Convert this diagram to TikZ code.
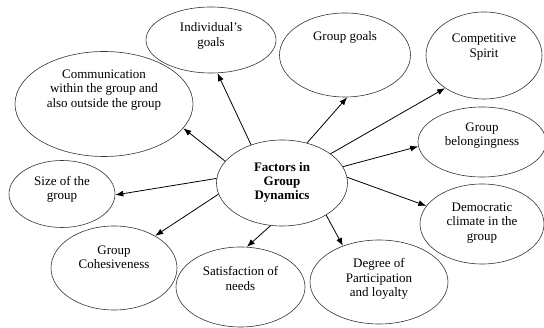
\documentclass[tikz,border=0pt]{standalone}
\usepackage{fontspec}
\setmainfont{Liberation Serif}
\usetikzlibrary{shapes.geometric,arrows.meta}
\begin{document}
\begin{tikzpicture}[x=1pt,y=-1pt,
  bub/.style={draw=black!80,line width=0.6pt,ellipse,inner sep=0pt},
  txt/.style={align=center,font=\fontsize{13}{14.5}\selectfont,inner sep=0pt},
  arr/.style={line width=0.8pt,-{Latex[length=8pt,width=6pt]}}]
\useasboundingbox (0,0) rectangle (544,328);
% ellipses
\node[bub,minimum width=131pt,minimum height=86pt] (c) at (282,183) {};
\node[bub,minimum width=130pt,minimum height=66pt] (ind) at (211,40) {};
\node[bub,minimum width=131pt,minimum height=84pt] (gg) at (345,55) {};
\node[bub,minimum width=116pt,minimum height=87pt] (comp) at (484,55.5) {};
\node[bub,minimum width=128pt,minimum height=70pt] (gb) at (482,142) {};
\node[bub,minimum width=124pt,minimum height=80pt] (dem) at (482,224) {};
\node[bub,minimum width=138pt,minimum height=84pt] (deg) at (379,282) {};
\node[bub,minimum width=129pt,minimum height=80pt] (sat) at (240.5,287) {};
\node[bub,minimum width=126pt,minimum height=84pt] (coh) at (114,268) {};
\node[bub,minimum width=106pt,minimum height=67pt] (size) at (62,194) {};
\node[bub,minimum width=178pt,minimum height=105pt] (comm) at (104,104) {};
% texts
\node[txt,font=\bfseries\fontsize{13}{14}\selectfont] (tc) at (282,182) {Factors in\\Group\\Dynamics};
\node[txt] (tind) at (211,36) {Individual’s\\goals};
\node[txt] (tgg) at (345,37) {Group goals};
\node[txt] (tcomp) at (484,47) {Competitive\\Spirit};
\node[txt] (tgb) at (482,135.5) {Group\\belongingness};
\node[txt] (tdem) at (482,223) {Democratic\\climate in the\\group};
\node[txt] (tdeg) at (379,279) {Degree of\\Participation\\and loyalty};
\node[txt] (tsat) at (240.5,278.5) {Satisfaction of\\needs};
\node[txt] (tcoh) at (114,257.5) {Group\\Cohesiveness};
\node[txt] (tsize) at (62,189.5) {Size of the\\group};
\node[txt] (tcomm) at (104,90) {Communication\\within the group and\\also outside the group};
% arrows
\draw[arr] (c.129) -- (ind.281);
\draw[arr] (c.159) -- (comm.343);
\draw[arr] (c.58) -- (gg.273);
\draw[arr] (c.31) -- (comp.220);
\draw[arr] (c.15) -- (gb.184);
\draw[arr] (c.176) -- (size.359);
\draw[arr] (c.190) -- (coh.38);
\draw[arr] (c.255) -- (sat.81);
\draw[arr] (c.324) -- (deg.135);
\draw[arr] (c.5) -- (dem.162);
\end{tikzpicture}
\end{document}
